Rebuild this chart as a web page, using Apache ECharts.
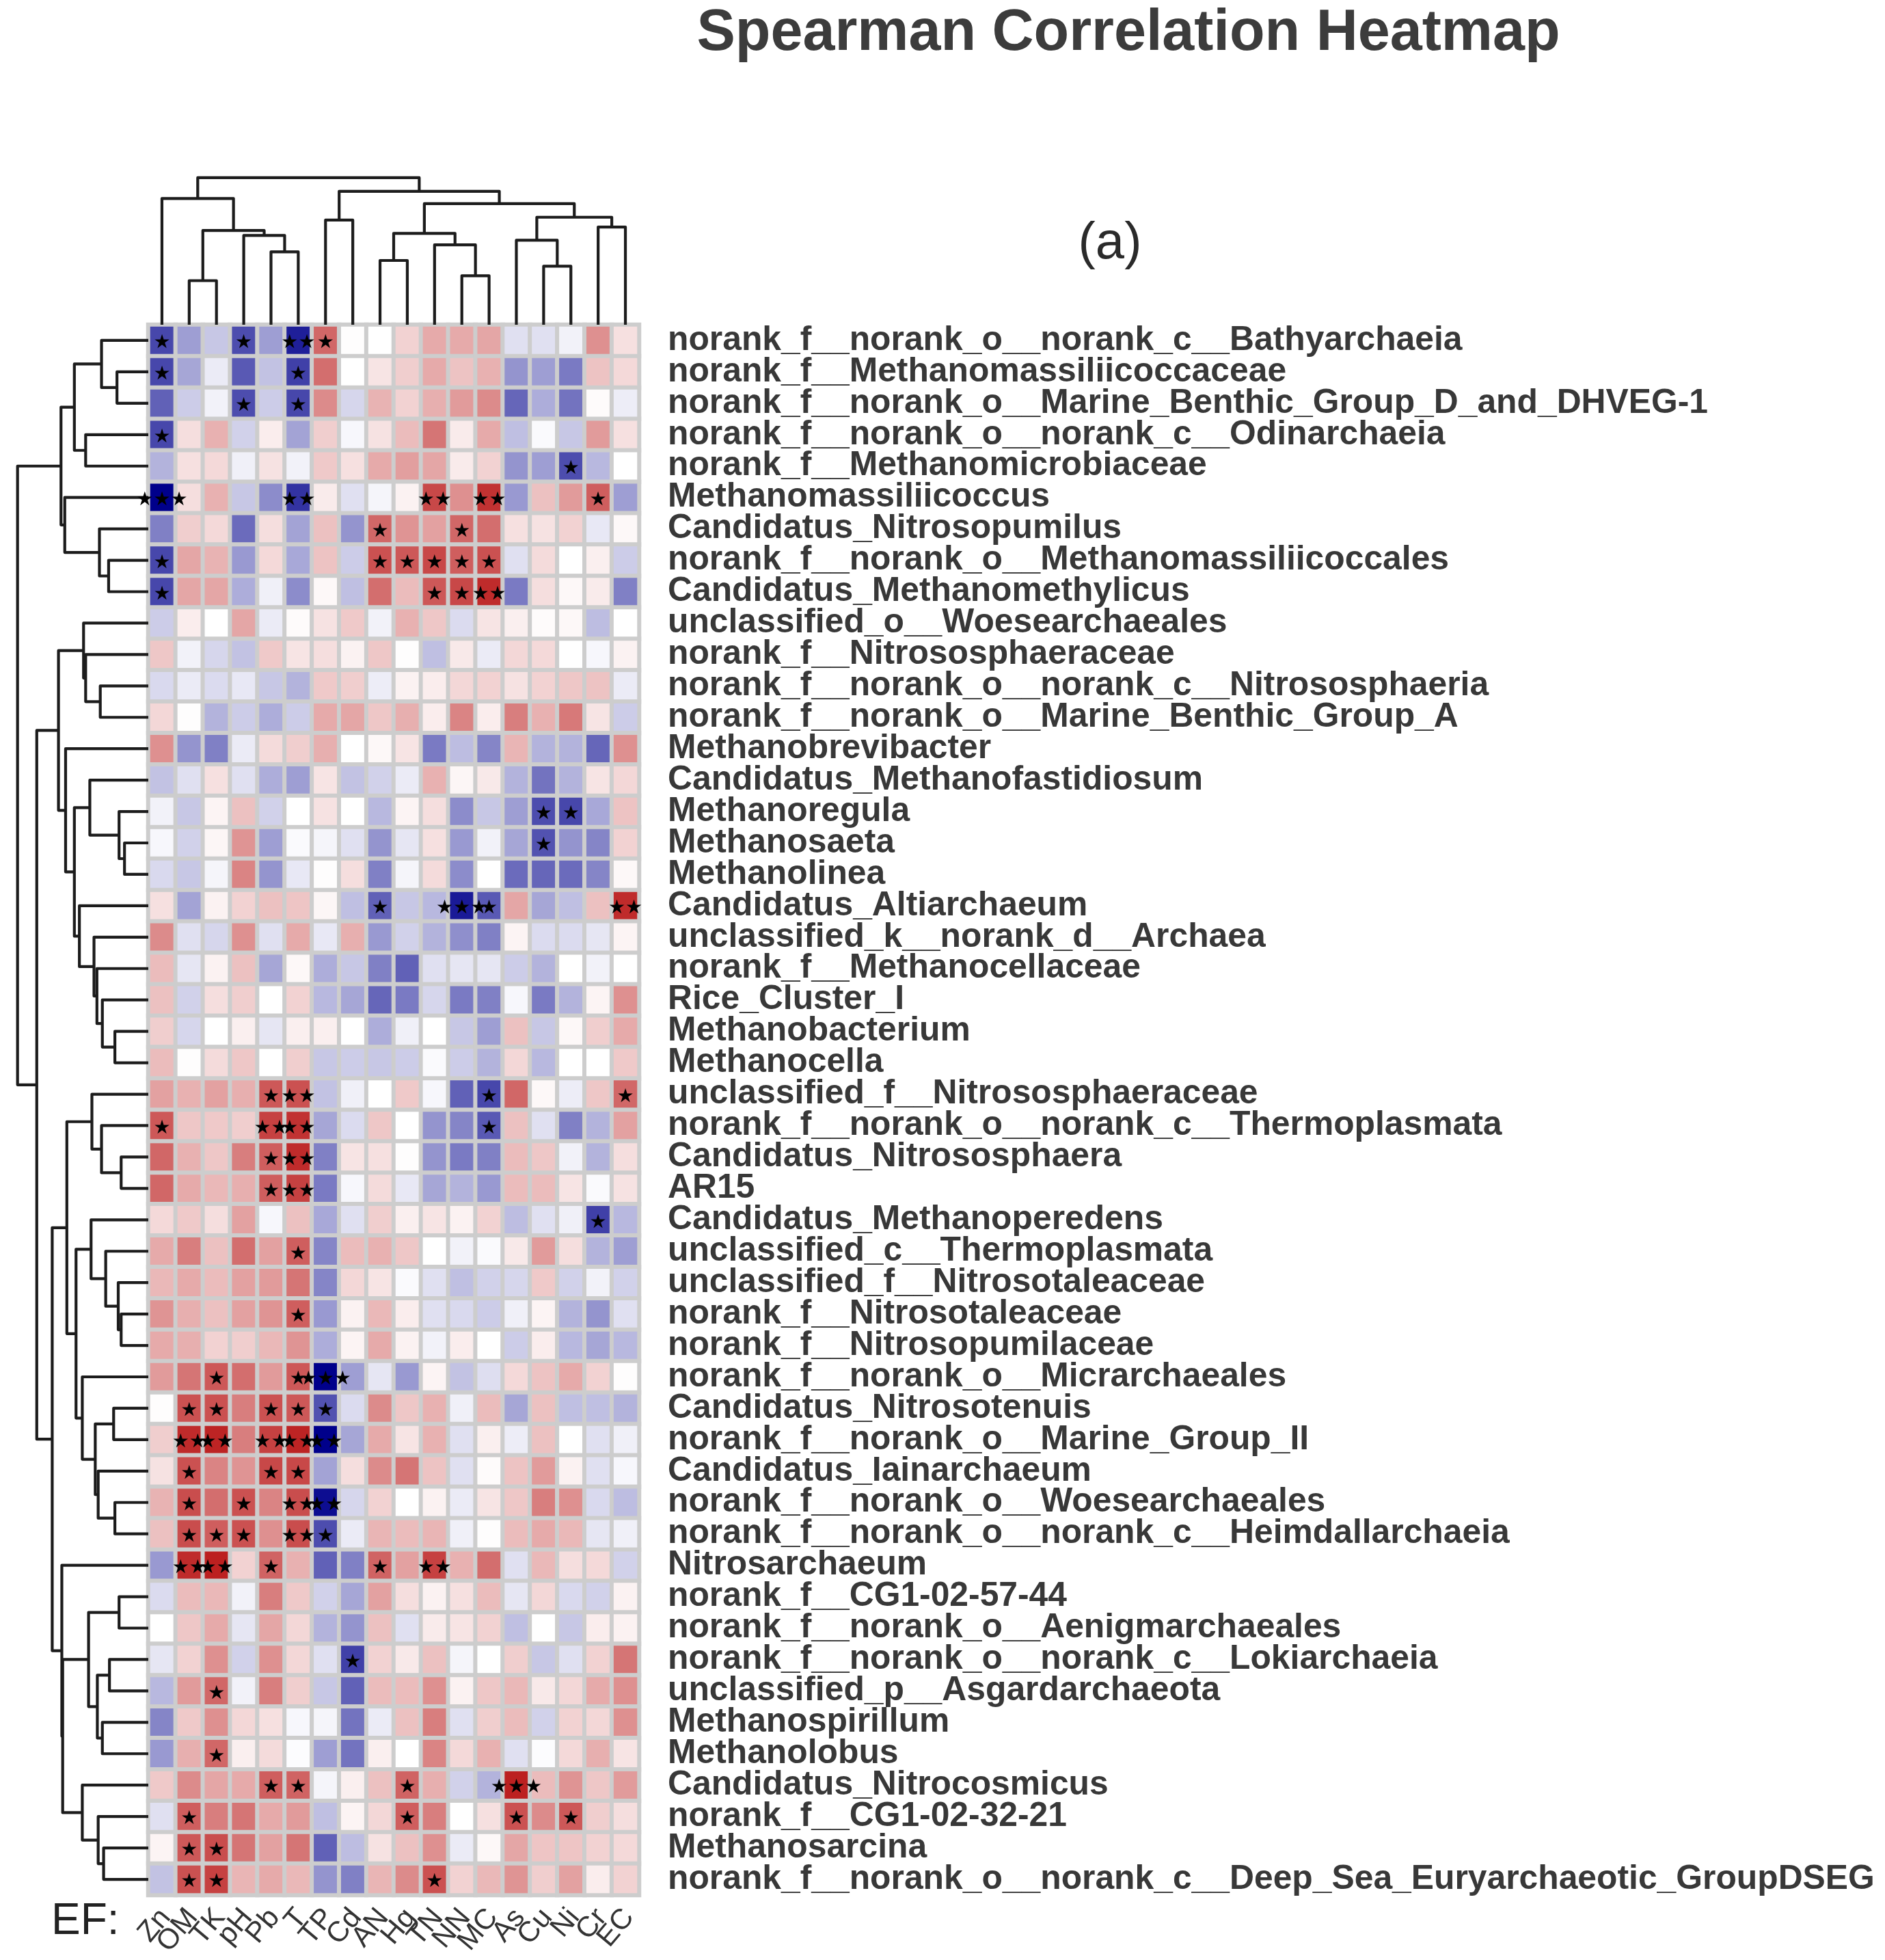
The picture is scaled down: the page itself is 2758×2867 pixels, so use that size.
<!DOCTYPE html>
<html><head><meta charset="utf-8">
<style>html,body{margin:0;padding:0;background:#fff}#c{width:2758px;height:2867px}</style>
<script src="https://cdn.jsdelivr.net/npm/echarts@6/dist/echarts.min.js"></script>
</head><body><div id="c"></div>
<script>
const colLabels = ['Zn','OM','TK','pH','Pb','T','TP','Cd','AN','Hg','TN','NN','MC','As','Cu','Ni','Cr','EC'];
const rowLabels = [
'norank_f__norank_o__norank_c__Bathyarchaeia','norank_f__Methanomassiliicoccaceae','norank_f__norank_o__Marine_Benthic_Group_D_and_DHVEG-1','norank_f__norank_o__norank_c__Odinarchaeia','norank_f__Methanomicrobiaceae','Methanomassiliicoccus','Candidatus_Nitrosopumilus','norank_f__norank_o__Methanomassiliicoccales','Candidatus_Methanomethylicus','unclassified_o__Woesearchaeales',
'norank_f__Nitrososphaeraceae','norank_f__norank_o__norank_c__Nitrososphaeria','norank_f__norank_o__Marine_Benthic_Group_A','Methanobrevibacter','Candidatus_Methanofastidiosum','Methanoregula','Methanosaeta','Methanolinea','Candidatus_Altiarchaeum','unclassified_k__norank_d__Archaea',
'norank_f__Methanocellaceae','Rice_Cluster_I','Methanobacterium','Methanocella','unclassified_f__Nitrososphaeraceae','norank_f__norank_o__norank_c__Thermoplasmata','Candidatus_Nitrososphaera','AR15','Candidatus_Methanoperedens','unclassified_c__Thermoplasmata',
'unclassified_f__Nitrosotaleaceae','norank_f__Nitrosotaleaceae','norank_f__Nitrosopumilaceae','norank_f__norank_o__Micrarchaeales','Candidatus_Nitrosotenuis','norank_f__norank_o__Marine_Group_II','Candidatus_Iainarchaeum','norank_f__norank_o__Woesearchaeales','norank_f__norank_o__norank_c__Heimdallarchaeia','Nitrosarchaeum',
'norank_f__CG1-02-57-44','norank_f__norank_o__Aenigmarchaeales','norank_f__norank_o__norank_c__Lokiarchaeia','unclassified_p__Asgardarchaeota','Methanospirillum','Methanolobus','Candidatus_Nitrocosmicus','norank_f__CG1-02-32-21','Methanosarcina','norank_f__norank_o__norank_c__Deep_Sea_Euryarchaeotic_GroupDSEG'];
// colour strength, percent of the colour scale
const cellValues = [
[-72,-38,-22,-70,-38,-88,68,1,0,20,38,38,40,-12,-12,-5,50,14],
[-72,-35,-8,-65,-24,-75,65,0,12,22,38,27,35,-42,-38,-52,27,17],
[-62,-20,-5,-70,-20,-72,52,-16,34,20,36,45,52,-60,-32,-55,2,-7],
[-72,15,35,-18,8,-36,22,-3,13,30,62,9,38,-25,-2,-22,45,14],
[-30,14,17,-6,13,-5,24,14,38,43,40,9,20,-42,-38,-70,-28,0],
[-100,15,35,-22,-45,-80,9,-12,-4,6,82,50,92,-40,28,45,72,-38],
[-50,22,17,-58,15,-36,28,-42,68,48,42,68,65,14,13,20,-9,3],
[-72,40,34,-40,17,-34,27,-20,78,75,82,72,78,-12,16,0,7,-20],
[-72,40,40,-32,-6,-45,3,-25,65,30,75,82,95,-52,15,3,9,-50],
[-20,8,0,40,-8,2,13,24,-5,35,25,-14,12,7,2,3,-26,0],
[25,-5,-16,-24,24,12,15,6,25,1,-25,10,-8,18,17,0,-3,6],
[-15,-8,-14,-9,-22,-30,24,22,-7,6,8,18,20,13,20,25,27,-8],
[18,1,-30,-20,-32,-20,38,40,25,36,8,55,8,58,35,60,12,-20],
[50,-42,-50,-8,16,22,36,0,3,12,-52,-26,-48,33,-30,-30,-60,50],
[-24,-12,14,-12,-32,-38,12,-24,-18,-8,35,4,10,-30,-55,-30,12,18],
[-5,-22,5,28,-18,0,13,0,-28,5,15,-45,-22,-38,-70,-72,-34,27],
[-3,-18,4,48,-38,-2,-4,-12,-42,-10,14,-40,-5,-35,-68,-42,-48,20],
[-15,-22,-4,55,-42,-9,1,15,-50,-4,16,-45,0,-58,-60,-58,-48,3],
[14,-36,6,20,28,26,4,-25,-62,-22,-28,-90,-65,40,-35,-25,28,95],
[52,-12,-16,50,-12,38,-9,36,-40,-18,-30,-44,-50,5,-14,-14,-10,5],
[30,-10,6,28,-35,3,-32,-22,-50,-62,-12,-10,-10,-20,-30,0,-5,0],
[28,-18,15,22,0,20,-28,-35,-60,-52,-16,-52,-50,-3,-52,-30,5,50],
[22,-16,0,7,-10,7,7,0,-32,-6,0,-22,-38,28,-22,3,22,38],
[30,1,16,25,0,22,-22,-20,-22,-20,-2,-20,-30,18,-28,0,0,24],
[42,35,42,36,75,78,-24,-6,0,24,-3,-62,-72,68,3,-7,25,68],
[75,25,24,22,85,92,-35,-14,25,0,-42,-48,-65,28,-12,-50,-30,42],
[68,35,25,58,72,95,-50,12,14,1,-42,-52,-50,30,25,-5,-30,15],
[68,38,32,36,72,85,-52,-3,16,-9,-35,-30,-40,30,30,12,-2,13],
[17,24,15,42,-3,28,-34,-12,22,7,12,6,20,-26,-12,-6,-75,-28],
[38,58,28,65,42,72,-48,30,35,25,0,-5,-2,10,45,15,-30,-38],
[32,38,30,42,45,62,-48,18,12,-2,-12,-25,-18,-16,24,-18,-5,-18],
[48,36,28,42,48,72,-40,6,32,8,-12,-15,-20,-6,5,-30,-42,-12],
[38,36,20,22,32,48,-32,5,38,6,-5,8,0,-20,8,-28,-35,-28],
[45,62,75,65,45,75,-100,-38,-10,-40,5,-24,-13,17,27,38,20,1],
[1,78,78,58,78,75,-68,-14,52,25,35,-6,30,-35,28,-25,-25,-30],
[22,95,98,58,85,98,-100,-35,38,12,35,-12,7,-7,28,0,-12,-6],
[13,78,55,48,82,82,-36,15,52,62,27,-12,2,27,45,6,-12,-3],
[34,80,65,78,55,80,-95,-16,20,0,6,-8,12,25,58,50,-15,-26],
[28,80,72,78,50,80,-70,-8,33,30,33,-6,1,30,38,32,-10,-6],
[-40,95,100,20,70,35,-62,-50,70,42,85,35,65,-12,32,15,17,-18],
[-14,30,32,-5,58,24,-18,-35,42,15,6,14,30,-10,18,-15,-18,6],
[0,25,38,-10,40,18,-30,-42,28,-12,9,12,20,-25,0,-22,8,6],
[-10,20,50,-18,50,18,-12,-75,20,10,28,-4,0,22,-22,-12,20,62],
[-28,45,68,-5,58,22,-22,-62,30,30,50,6,25,32,10,18,38,50],
[-48,24,50,18,14,-3,-4,-55,-8,28,58,-12,22,30,-18,20,18,50],
[-40,36,68,7,16,-1,-38,-55,7,0,55,17,35,-12,-1,17,36,12],
[24,52,40,38,72,70,-4,7,28,70,36,-18,-30,100,30,48,25,45],
[-12,72,58,62,38,45,-25,5,18,72,58,0,14,78,52,75,22,15],
[5,75,80,62,42,62,-62,-26,13,28,50,-8,3,40,26,26,20,17],
[-24,78,85,33,38,32,-42,-50,33,52,78,20,32,48,22,42,8,20]];
// number of significance stars per cell
const cellStars = [
'100102100000000000','100001000000000000','000101000000000000','100000000000000000','000000000000000100',
'300002000020200010','000000001001000000','100000001111100000','100000000011200000','000000000000000000',
'000000000000000000','000000000000000000','000000000000000000','000000000000000000','000000000000000000',
'000000000000001100','000000000000001000','000000000000000000','000000001003100002','000000000000000000',
'000000000000000000','000000000000000000','000000000000000000','000000000000000000','000012000000100001',
'100022000000100000','000012000000000000','000012000000000000','000000000000000010','000001000000000000',
'000000000000000000','000001000000000000','000000000000000000','001001300000000000','011011100000000000',
'022022200000000000','010011000000000000','010102200000000000','011102100000000000','022010001020000000',
'000000000000000000','000000000000000000','000000010000000000','001000000000000000','000000000000000000',
'001000000000000000','000011000100030000','010000000100010100','011000000000000000','011000000010000000'];
// dendrograms: node = [left, right, merge distance]; a plain number is a leaf
const colTree = [[0,[[1,2,153],[3,[4,5,253],310],327],438],[[6,7,363],[[[8,9,223],[10,[11,12,170],277],317],[[13,[14,15,203],293],[16,17,339],373],420],463],510];
const colTreeMax = 555;
const rowTree = [
 [[[0,[1,2,75],112],[3,4,150],177],[5,[6,[7,8,95],117],200],209],
 [[[9,[10,[11,12,115],150],155],[13,[[14,[15,[16,17,57],70],140],[18,[19,[20,[21,[22,23,80],110],123],130],165],177],198],215],
  [[[24,[25,[26,27,65],112],135],[[28,[29,[30,[31,32,65],72],102],137],[33,[[34,35,83],[36,[37,38,80],120],127],158],173],195],
   [39,[[[40,41,70],[[42,43,93],[44,45,110],122],143],[46,[47,[48,49,107],120],158],205],207],230],267],313];
const rowTreeMax = 355;

const heatData = [];
cellValues.forEach((r,y)=>r.forEach((v,x)=>heatData.push([x,y,v])));
function treeLinks(tree){
  const out=[];
  (function walk(n){
    if(typeof n==='number') return {p:n+0.5,h:0};
    const a=walk(n[0]), b=walk(n[1]);
    out.push([a.p,a.h,b.p,b.h,n[2]]);
    return {p:(a.p+b.p)/2,h:n[2]};
  })(tree);
  return out;
}
const chart = echarts.init(document.getElementById('c'),null,{renderer:'canvas'});
const LINE = {stroke:'#1c1c1c',lineWidth:4.2,fill:null,lineJoin:'round'};
const hmLeft=217, hmTop=475, hmW=718, hmH=2297;
chart.setOption({
  animation:false,
  backgroundColor:'#fff',
  textStyle:{fontFamily:'"Liberation Sans"'},
  title:[{text:'Spearman Correlation Heatmap',left:1646,top:2,textAlign:'center',
          textStyle:{fontFamily:'"Liberation Sans"',fontWeight:'bold',fontSize:84.5,color:'#3c3c3c'}}],
  graphic:[
    {type:'text',x:1624,y:357,style:{text:'(a)',fontFamily:'"Liberation Sans"',fontSize:76,fill:'#2a2a2a',align:'center',verticalAlign:'middle'}},
    {type:'text',x:75,y:2811,style:{text:'EF:',fontFamily:'"Liberation Sans"',fontSize:64,fill:'#222',align:'left',verticalAlign:'middle'}}
  ],
  grid:[
    {left:hmLeft,top:hmTop,width:hmW,height:hmH},
    {left:hmLeft,top:hmTop-234,width:hmW,height:234},
    {left:0,top:hmTop,width:hmLeft,height:hmH}
  ],
  xAxis:[
    {type:'category',gridIndex:0,data:colLabels,position:'bottom',axisLine:{show:false},axisTick:{show:false},splitLine:{show:false},
     axisLabel:{interval:0,rotate:50,fontSize:42,color:'#333',margin:32,padding:[0,-8,0,0],fontFamily:'"Liberation Sans"'}},
    {type:'value',gridIndex:1,min:0,max:colLabels.length,show:false},
    {type:'value',gridIndex:2,min:0,max:rowTreeMax,inverse:true,show:false}
  ],
  yAxis:[
    {type:'category',gridIndex:0,data:rowLabels,inverse:true,position:'right',axisLine:{show:false},axisTick:{show:false},splitLine:{show:false},
     axisLabel:{interval:0,fontSize:49.8,fontWeight:'bold',color:'#383838',margin:42,padding:[0,0,2,0],align:'left',fontFamily:'"Liberation Sans"'}},
    {type:'value',gridIndex:1,min:0,max:colTreeMax,show:false},
    {type:'value',gridIndex:2,min:0,max:rowLabels.length,inverse:true,show:false}
  ],
  visualMap:{show:false,seriesIndex:0,min:-100,max:100,dimension:2,inRange:{color:['#00008b','#ffffff','#bc2020']}},
  series:[
    {type:'heatmap',xAxisIndex:0,yAxisIndex:0,data:heatData,progressive:0,
     itemStyle:{borderColor:'#cdcdcd',borderWidth:6},
     label:{show:true,color:'#000',fontFamily:'"DejaVu Sans"',fontSize:28,lineHeight:28,offset:[0,4],
       formatter:p=>'★'.repeat(+cellStars[p.value[1]][p.value[0]])}},
    {type:'custom',xAxisIndex:1,yAxisIndex:1,data:treeLinks(colTree),clip:false,encode:{x:0,y:1},silent:true,
     renderItem:(ctx,api)=>{
       const a=api.coord([api.value(0),api.value(1)]),am=api.coord([api.value(0),api.value(4)]),
             bm=api.coord([api.value(2),api.value(4)]),b=api.coord([api.value(2),api.value(3)]);
       return {type:'polyline',shape:{points:[a,am,bm,b]},style:LINE};
     }},
    {type:'custom',xAxisIndex:2,yAxisIndex:2,data:treeLinks(rowTree),clip:false,encode:{y:0,x:1},silent:true,
     renderItem:(ctx,api)=>{
       const a=api.coord([api.value(1),api.value(0)]),am=api.coord([api.value(4),api.value(0)]),
             bm=api.coord([api.value(4),api.value(2)]),b=api.coord([api.value(3),api.value(2)]);
       return {type:'polyline',shape:{points:[a,am,bm,b]},style:LINE};
     }}
  ]
});
</script></body></html>
